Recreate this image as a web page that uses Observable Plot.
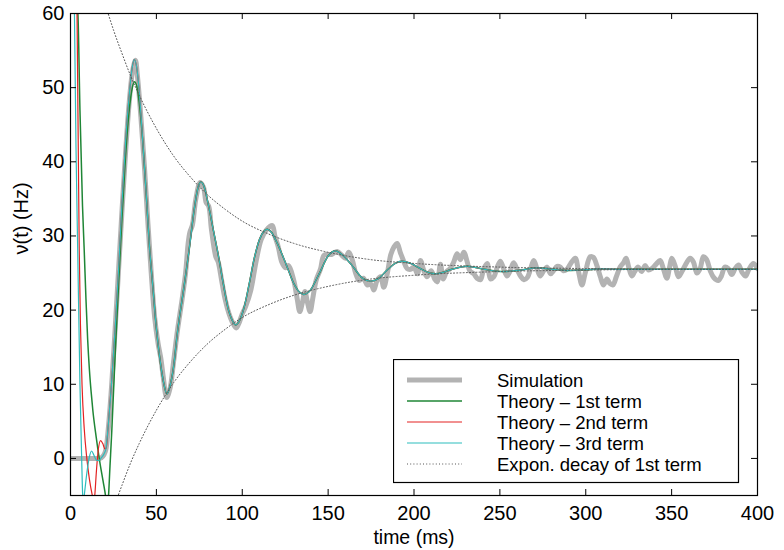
<!DOCTYPE html>
<html><head><meta charset="utf-8">
<script src="https://cdn.jsdelivr.net/npm/d3@7"></script>
<script src="https://cdn.jsdelivr.net/npm/@observablehq/plot@0.6"></script>
<style>
body{margin:0;background:#fff;}
#wrap{position:relative;width:784px;height:550px;font-family:"Liberation Sans",Arial,Helvetica,sans-serif;}
#legend{position:absolute;left:393px;top:359px;}
</style></head><body><div id="wrap"></div>
<script>
// ---- tick labels ----
const xTicks = [0, 50, 100, 150, 200, 250, 300, 350, 400];
const yTicks = [0, 10, 20, 30, 40, 50, 60];
const legendLabels = ["Simulation", "Theory \u2013 1st term", "Theory \u2013 2nd term", "Theory \u2013 3rd term", "Expon. decay of 1st term"];

// ---- Simulation (gray, noisy) ----
const simT = [0,5,10,15,18,19.5,20.6,22,24,26,28,30,32,34,36,37.8,39,41,43,45,47,49,51,52.6,54,56,58,60,62.3,65,67,68.5,69.5,71,73,75.5,77.5,79,80.5,82,84.6,86,88,90,92.3,94,96.5,98,100,102,105,108,111,114,117.5,119,121,123,125.3,127,130,132,133.5,135,136.5,138,139.5,141,143,145.5,147.6,150,152,155.3,158,160,162,164,166,168,170.5,172.8,175,176.6,178.5,180.5,182.4,184.5,186.5,188.3,190.2,192,194,196,198,200,202,203.8,205.5,207.5,210,212,213.5,215.4,217,219,221,223,225.1,227,229,231,232.5,234.8,236.7,238.7,240.5,242.6,244.5,246.5,248.5,250.3,252.3,254.2,256,258,260,262,264,266,267.8,269.7,271.6,273.5,275.5,277.5,279.5,281.5,283.3,285.2,287,289,291,293.9,295.8,297.8,299.8,302.6,304.5,306.5,308.5,310.3,312.3,314,315.8,317.8,320,322,323.5,325,326.8,328.5,330.5,332.5,334.5,336.5,338.5,341,343.3,345.3,347.2,348.8,350.1,352,354,356,358.5,360.8,362.7,364.7,366.6,368.5,370.4,372.5,374.5,377.2,379,381,383,385,387,389,391,393,395,397.6,400];
const simV = [0,0,0,0,0.1,0.5,1.2,4,10,17.5,25.5,33.5,41,47.5,52,53.7,51.5,46,39.5,32,25,19,15.5,13.5,11,8.2,9.5,13,17.3,21.5,25,29,30.5,31.5,35,37.2,36.5,34.5,34,31,27.2,26.5,24,21.5,19.5,18.5,17.6,18.2,19.5,20.5,22.7,26.5,29.5,30.8,31.4,30,28.5,26.5,25.7,26,24,21.5,19.8,21,22.5,21,19.8,21.5,24,25.5,27.4,27.5,27.5,27.9,27.4,27,27.8,26.8,25,24,24.3,23.4,23.5,22.7,24,24.5,23.1,25,27.5,28.5,29,27.8,26.6,25.6,25.5,25.8,24.9,26.7,25.5,24.5,25.3,24.2,23.8,26.2,24.2,25.2,25.6,26.4,27.6,26.8,27.8,26.5,25.3,24.9,24.3,24.1,25.5,26.3,24.2,24.5,25.8,26.6,25.5,24.6,25.3,26.4,25.5,24.6,24.1,24.4,25.5,26.7,25.6,24.6,25.3,25.8,24.9,25.4,25.9,25.8,25.3,25.5,26.2,27,25.2,23.4,25.1,27.2,27.1,26,24.5,23.4,24.2,23.6,23.4,24.5,25.8,26.4,27,25.8,24.6,25.2,25.8,25.2,26,25.4,25.6,26.2,26.7,25.5,24.3,25.8,27,26,24.5,25.2,26.3,27,26.5,25,25.6,27.2,26.8,25.3,24.4,24,24.6,25.8,25.6,24.8,25.6,26.1,25.1,24.6,25.5,26.3,25.6];

// ---- Theory: early parts of each term ----
const greenHeadT = [3.3,4.3,5.5,7,8,9,10,11,12,13,15,17,19,20.5,21.2,22,23,24,26,28,30,32,34,36,37.2,38.5,40];
const greenHeadV = [62,60,47,34,28,21.5,16,12,9,6.5,2.8,-0.4,-3.1,-5.2,-6.5,-5.5,-1,3.5,14,23.5,32.5,40.5,46.5,50,50.8,50.3,48];
const redHeadT = [3.5,3.8,4.2,4.6,5.1,5.8,6.7,8,9.5,11,12.9,13.5,14.2,15,16,17.5,18.8,20,20.8];
const redHeadV = [64,60,50,40,28,18,10,4,0,-2.8,-5.2,-5.8,-4.8,-2,0.8,2.4,2.0,1.3,1.4];
const cyanHeadT = [2.0,2.3,3.2,4.2,5.5,6.5,7.1,7.5,8.0,9.5,11,12.3,13.5,15,16.5,18,19.5,20.6];
const cyanHeadV = [65,60,42,28,10,0,-5,-5.9,-5,-2,0.2,1.0,0.5,-0.2,-0.3,0.1,0.6,1.3];
// rising branch shared by 2nd and 3rd term
const riseT = [22,24,26,28,30,32,34,36,37.1,38.5,40];
const riseV = [4.5,10.5,17.5,25.5,34.5,42.5,48.5,52.8,53.8,52.8,49.5];
// common tail of all three terms
const tailT = [42,44,46,48,50,52,54,56.1,58,60,62,66,69,72,74,75.9,78,80,83,86,89,92,94,96.2,98,101,104,107,110,112.5,114.6,117,120,125,130,133,135.9,139,145,150,154.4,158,164,170,174.7,179,184,189,193.1,198,203,208,212.5,217,222,231,241,252,262,271.6,281,290,300,310,320,340,360,380,400];
const tailV = [43,36,28.5,23,17.5,13.5,10.5,8.7,9.8,12.3,16.5,23,28,33.5,36.3,37.3,36.5,34.5,31,27.5,23.5,20,18.7,18,18.4,20.3,23.5,27,29.5,30.6,30.9,30.5,29.2,26.5,23.6,22.5,22.1,22.5,25,27.3,28,27.5,26,24.3,23.9,24.2,25.3,26.3,26.6,26.3,25.7,25.1,24.9,25.1,25.5,25.9,25.5,25.2,25.4,25.7,25.5,25.35,25.45,25.55,25.5,25.5,25.5,25.5,25.5];

// ---- Exponential decay envelope of 1st term ----
const envUpT = [21.5,25,30,35,40,50,60,70,80,90,100,115,130,150,175,200,250,300,350,400];
const envUpV = [60.3,57.8,54.6,51.6,49.0,44.5,40.8,37.9,35.5,33.6,32.0,30.3,29.0,27.8,26.8,26.3,25.8,25.6,25.5,25.5];
const envLoT = [26,30,35,40,50,60,70,80,90,100,115,130,150,175,200,250,300,350,400];
const envLoV = [-6.1,-3.6,-0.6,2.0,6.5,10.2,13.1,15.5,17.4,19.0,20.7,22.0,23.2,24.2,24.7,25.2,25.4,25.5,25.5];

const pts = (T, V) => T.map((t, i) => ({t, v: V[i]}));
const sim = pts(simT, simV);
const green = pts(greenHeadT.concat(tailT), greenHeadV.concat(tailV));
const red = pts(redHeadT.concat(riseT, tailT), redHeadV.concat(riseV, tailV));
const cyan = pts(cyanHeadT.concat(riseT, tailT), cyanHeadV.concat(riseV, tailV));
const envUp = pts(envUpT, envUpV);
const envLo = pts(envLoT, envLoV);

const C = {sim: "#b3b3b3", green: "#1f8636", red: "#e32222", cyan: "#2dbdbd", env: "#555"};
const font = '"Liberation Sans", Arial, Helvetica, sans-serif';

const fw = 784 - 70 - 27, fh = 550 - 13 - 55;
const chart = Plot.plot({
  width: 784, height: 550,
  marginLeft: 70, marginRight: 27, marginTop: 13, marginBottom: 55,
  x: {domain: [0, 400]},
  y: {domain: [-5, 60]},
  style: {fontFamily: font, fontSize: "20px", color: "black", background: "white"},
  marks: [
    Plot.line(sim, {x: "t", y: "v", stroke: C.sim, strokeWidth: 5, curve: "catmull-rom", clip: true}),
    Plot.line(green, {x: "t", y: "v", stroke: C.green, strokeWidth: 1.5, curve: "monotone-x", clip: true}),
    Plot.line(red, {x: "t", y: "v", stroke: C.red, strokeWidth: 1.2, curve: "monotone-x", clip: true}),
    Plot.line(cyan, {x: "t", y: "v", stroke: C.cyan, strokeWidth: 1.2, curve: "monotone-x", clip: true}),
    Plot.line(envUp, {x: "t", y: "v", stroke: C.env, strokeWidth: 1, strokeDasharray: "1,2.2", curve: "monotone-x", clip: true}),
    Plot.line(envLo, {x: "t", y: "v", stroke: C.env, strokeWidth: 1, strokeDasharray: "1,2.2", curve: "monotone-x", clip: true}),
    Plot.frame({stroke: "black", strokeWidth: 1.2}),
    Plot.tickX(xTicks, {x: d => d, stroke: "black", insetTop: fh - 6}),
    Plot.tickX(xTicks, {x: d => d, stroke: "black", insetBottom: fh - 6}),
    Plot.tickY(yTicks, {y: d => d, stroke: "black", insetRight: fw - 6}),
    Plot.tickY(yTicks, {y: d => d, stroke: "black", insetLeft: fw - 6}),
    Plot.axisX(xTicks, {tickSize: 0, tickPadding: 10, label: null, fontSize: 20}),
    Plot.axisY(yTicks, {tickSize: 0, tickPadding: 6, label: null, fontSize: 20}),
    Plot.text(["\u03bd(t) (Hz)"], {frameAnchor: "left", dx: -49, rotate: -90, fontSize: 20}),
    Plot.text(["time (ms)"], {frameAnchor: "bottom", dy: 44, fontSize: 19.5, lineAnchor: "top", dy: 35})
  ]
});
document.getElementById("wrap").appendChild(chart);

// ---- legend ----
const L = d3.select("#wrap").append("svg").attr("id", "legend")
  .attr("width", 347).attr("height", 125)
  .style("font-family", font);
L.append("rect").attr("x", 0.5).attr("y", 0.5).attr("width", 345).attr("height", 123)
  .attr("fill", "white").attr("stroke", "black").attr("stroke-width", 1.2);
const legStyles = [
  {stroke: C.sim, w: 5, dash: null},
  {stroke: C.green, w: 1.5, dash: null},
  {stroke: C.red, w: 1.2, dash: null},
  {stroke: C.cyan, w: 1.2, dash: null},
  {stroke: C.env, w: 1, dash: "1,2.2"}
];
legendLabels.forEach((lab, i) => {
  const y = 21 + i * 21;
  const s = legStyles[i];
  const ln = L.append("line").attr("x1", 14).attr("x2", 69).attr("y1", y).attr("y2", y)
    .attr("stroke", s.stroke).attr("stroke-width", s.w);
  if (s.dash) ln.attr("stroke-dasharray", s.dash);
  L.append("text").attr("x", 104).attr("y", y + 6.5).attr("font-size", 18.5).attr("fill", "black").text(lab);
});
</script></body></html>
